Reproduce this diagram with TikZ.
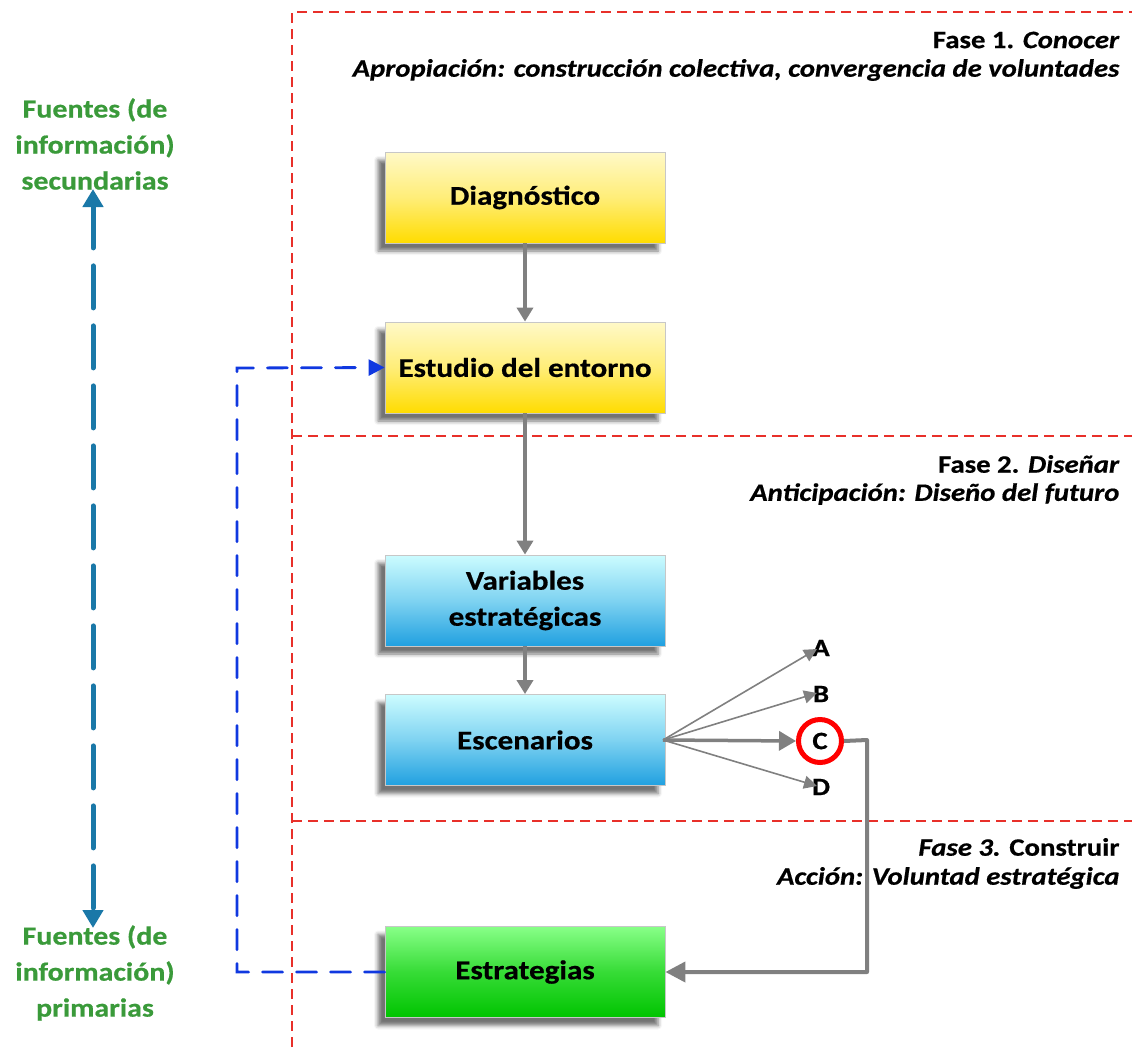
\documentclass[tikz,border=0pt]{standalone}
\usepackage{fontspec}
\setmainfont{Carlito}[FakeStretch=1.15, BoldFeatures={FakeBold=0.6}, BoldItalicFeatures={FakeBold=0.6}]
\usetikzlibrary{arrows.meta,shadows.blur}
\definecolor{phaseRed}{HTML}{E8302A}
\definecolor{flowGray}{HTML}{808080}
\definecolor{loopBlue}{HTML}{1038E0}
\definecolor{srcTeal}{HTML}{1A78A8}
\definecolor{srcGreen}{HTML}{3A9A3A}
\definecolor{yelTop}{HTML}{FFF9C8}
\definecolor{yelBot}{HTML}{FFDC00}
\definecolor{cyTop}{HTML}{CCFCFF}
\definecolor{cyBot}{HTML}{20A0E0}
\definecolor{grTop}{HTML}{88FF88}
\definecolor{grBot}{HTML}{00C400}
\tikzset{
  stagebox/.style={draw=black!22, line width=0.8pt, minimum width=280pt, minimum height=91pt,
    align=center, font=\fontsize{27}{36}\selectfont\bfseries,
    blur shadow={shadow xshift=-7pt, shadow yshift=-8pt, shadow blur radius=4pt, shadow opacity=55}},
  yelbox/.style={stagebox, top color=yelTop, bottom color=yelBot, middle color=yelTop!60!yelBot},
  cybox/.style={stagebox, top color=cyTop, bottom color=cyBot, middle color=cyTop!55!cyBot},
  grbox/.style={stagebox, top color=grTop, bottom color=grBot, middle color=grTop!40!grBot},
  phaseline/.style={draw=phaseRed, line width=1.2pt, dash pattern=on 10pt off 6pt},
  phasetext/.style={anchor=east, font=\fontsize{25}{30}\selectfont\bfseries},
  flow/.style={draw=flowGray, line width=3.5pt, -{Triangle[length=14pt,width=16pt]}},
  fan/.style={draw=flowGray, line width=1.6pt, -{Triangle[length=13pt,width=13pt]}},
  letter/.style={font=\fontsize{25}{26}\selectfont\bfseries, inner sep=0pt},
  loop/.style={draw=loopBlue, line width=2.8pt, dash pattern=on 20pt off 14pt, line cap=round,
    -{Triangle[length=16pt,width=16pt]}},
  source/.style={align=center, text=srcGreen, font=\fontsize{26}{36}\selectfont\bfseries},
  srcarrow/.style={draw=srcTeal, line width=5pt, dash pattern=on 42pt off 18pt, line cap=round,
    {Triangle[length=18pt,width=20pt]}-{Triangle[length=18pt,width=20pt]}}
}
\begin{document}
\begin{tikzpicture}[x=1pt,y=-1pt]
\useasboundingbox (0,0) rectangle (1132,1047);

% phase boundaries
\draw[phaseline] (292,1047) -- (292,12) -- (1132,12);
\draw[phaseline] (292,436) -- (1132,436);
\draw[phaseline] (292,821) -- (1132,821);

% phase captions
\node[phasetext] (f1a) at (1123,40) {Fase 1. \textit{Conocer}};
\node[phasetext] (f1b) at (1123,70) {\textit{Apropiación: construcción colectiva, convergencia de voluntades}};
\node[phasetext] (f2a) at (1123,464) {Fase 2. \textit{Diseñar}};
\node[phasetext] (f2b) at (1123,494) {\textit{Anticipación: Diseño del futuro}};
\node[phasetext] (f3a) at (1123,847) {\textit{Fase 3.} Construir};
\node[phasetext] (f3b) at (1123,878) {\textit{Acción: Voluntad estratégica}};

% stages
\node[yelbox] (diag) at (525,197.5) {Diagnóstico};
\node[yelbox] (ent) at (525,367.5) {Estudio del entorno};
\node[cybox] (var) at (525,600.5) {Variables\\estratégicas};
\node[cybox] (esc) at (525,740) {Escenarios};
\node[grbox] (est) at (525,972) {Estrategias};

% scenarios
\node[letter] (la) at (821,648) {A};
\node[letter] (lb) at (821,694) {B};
\node[draw=red, line width=5pt, circle, minimum size=43pt, inner sep=0pt,
  font=\fontsize{25}{26}\selectfont\bfseries] (lc) at (820,741) {C};
\node[letter] (ld) at (821,787) {D};
\coordinate (fanO) at (663,740);
\coordinate (ta) at (817,649);
\coordinate (tb) at (817,693);
\coordinate (td) at (817,786);
\coordinate (turn1) at (867,740);
\coordinate (turn2) at (867,972);

% main flow
\draw[flow] (diag) -- (ent);
\draw[flow] (ent) -- (var);
\draw[flow] (var) -- (esc);
\draw[fan] (fanO) -- (ta);
\draw[fan] (fanO) -- (tb);
\draw[fan] (fanO) -- (td);
\draw[draw=flowGray, line width=3.5pt, -{Triangle[length=17pt,width=19pt]}] (fanO) -- (lc.west);
\draw[draw=flowGray, line width=4pt, line join=round, -{Triangle[length=20pt,width=20pt]}]
  (lc.east) -- (turn1) -- (turn2) -- (est.east);

% feedback loop
\coordinate (lp1) at (237,972);
\coordinate (lp2) at (237,368);
\draw[loop] (est.west) -- (lp1) -- (lp2) -- (ent.west);

% information sources
\node[source] (sec) at (95,144) {Fuentes (de\\información)\\secundarias};
\node[source] (pri) at (95,973) {Fuentes (de\\información)\\primarias};
\coordinate (sa) at (93,189);
\coordinate (sb) at (93,928);
\draw[srcarrow] (sa) -- (sb);
\end{tikzpicture}
\end{document}
